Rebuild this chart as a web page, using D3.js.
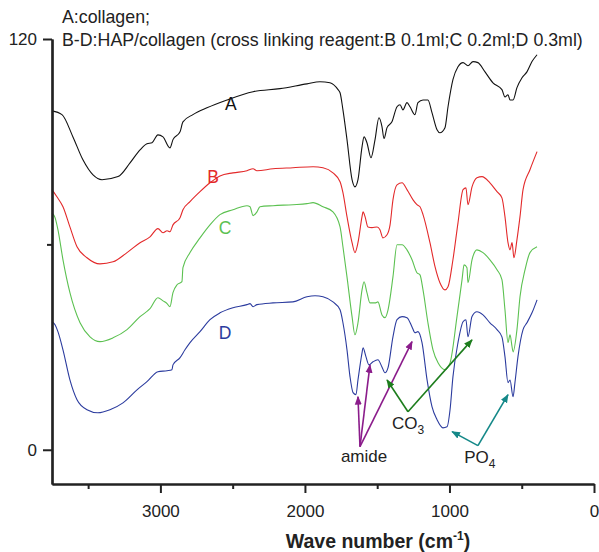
<!DOCTYPE html>
<html>
<meta charset="utf-8">
<style>
  body { margin: 0; background: #fff; }
  svg { width: 599px; height: 552px; display: block; }
  text { font-family: "Liberation Sans", Arial, Helvetica, sans-serif; }
</style>

<body>
  <svg></svg>
</body>

<script src="https://d3js.org/d3.v7.min.js"></script>

<script>

  // spectra: [wave number, transmittance]
  var specA = [[3750,99.0],[3681,97.9],[3605,91.4],[3536,84.7],[3466,80.3],[3404,78.9],[3293,79.8],[3210,83.8],[3141,87.6],[3093,89.4],[3058,89.7],[3017,92.0],[2982,91.4],[2934,88.2],[2913,90.6],[2864,92.9],[2844,95.8],[2775,97.9],[2678,99.9],[2539,102.2],[2359,104.6],[2173,105.5],[1986,106.9],[1896,107.5],[1827,107.2],[1771,105.2],[1757,104.3],[1737,99.3],[1709,90.6],[1674,78.9],[1654,76.8],[1633,78.9],[1605,88.5],[1591,91.4],[1571,89.7],[1543,85.3],[1515,90.6],[1488,97.0],[1467,94.4],[1453,90.9],[1432,94.1],[1398,95.8],[1363,100.2],[1342,100.8],[1322,99.3],[1294,101.4],[1273,100.2],[1239,97.9],[1218,101.4],[1183,102.2],[1149,102.2],[1121,98.5],[1086,93.5],[1066,92.6],[1031,94.1],[1010,100.2],[976,108.1],[941,111.9],[906,113.1],[872,112.2],[837,113.4],[803,113.1],[754,110.4],[699,107.2],[637,105.2],[616,103.1],[595,103.7],[581,102.2],[560,102.2],[533,105.8],[498,108.7],[464,110.4],[429,113.4],[394,115.4]];

  var specB = [[3750,76.0],[3716,73.9],[3674,71.0],[3626,65.1],[3577,59.3],[3508,56.1],[3418,54.3],[3328,54.9],[3231,57.6],[3141,60.5],[3072,62.2],[3017,64.6],[2982,63.4],[2954,64.0],[2934,63.7],[2913,65.7],[2864,67.8],[2844,70.1],[2795,72.5],[2726,75.4],[2657,78.0],[2588,80.0],[2498,80.9],[2401,81.5],[2359,82.1],[2332,81.5],[2221,82.1],[2083,82.4],[1944,82.7],[1875,82.4],[1806,80.9],[1757,78.3],[1737,75.1],[1709,68.1],[1674,60.5],[1654,57.6],[1633,60.5],[1605,68.1],[1598,69.5],[1584,68.1],[1564,65.1],[1536,64.9],[1501,65.1],[1481,64.3],[1460,61.9],[1432,62.8],[1411,65.7],[1391,73.0],[1363,77.4],[1328,78.0],[1294,76.0],[1252,73.0],[1225,71.6],[1204,71.0],[1183,68.7],[1135,60.5],[1100,53.5],[1066,48.8],[1031,46.7],[1010,47.6],[976,55.5],[941,66.3],[906,76.0],[886,76.5],[872,71.6],[844,76.8],[810,79.5],[775,79.8],[720,78.0],[671,75.4],[637,73.6],[616,68.1],[595,60.5],[581,58.4],[567,60.5],[554,56.1],[533,61.4],[512,68.1],[491,76.0],[443,81.8],[394,87.1]];

  var specC = [[3750,69.2],[3729,67.8],[3709,64.3],[3674,55.5],[3626,45.9],[3556,37.1],[3487,33.0],[3418,31.6],[3328,32.7],[3231,35.1],[3141,38.9],[3072,41.2],[3017,44.4],[2982,43.5],[2954,42.7],[2934,41.8],[2913,45.9],[2885,48.2],[2851,49.1],[2844,53.2],[2795,57.6],[2726,61.9],[2657,65.7],[2588,68.7],[2498,70.1],[2401,71.3],[2380,71.0],[2359,68.4],[2332,69.5],[2311,71.0],[2221,71.3],[2083,71.6],[1986,71.9],[1944,72.2],[1875,71.0],[1806,69.5],[1757,65.1],[1737,59.3],[1709,50.5],[1674,38.9],[1654,33.6],[1633,37.1],[1605,46.7],[1591,49.1],[1571,45.9],[1550,42.9],[1515,42.9],[1495,43.2],[1467,39.4],[1446,38.6],[1425,40.9],[1391,50.5],[1363,59.9],[1328,59.9],[1294,58.4],[1259,55.5],[1225,51.7],[1204,51.1],[1183,46.7],[1149,37.1],[1114,29.2],[1079,25.4],[1031,23.4],[996,25.4],[948,38.9],[913,49.7],[899,54.0],[879,53.2],[872,48.8],[844,55.5],[810,58.4],[768,57.6],[720,55.5],[671,52.6],[637,49.7],[616,40.9],[595,31.3],[581,33.6],[567,30.1],[560,28.6],[533,35.1],[512,44.7],[477,52.6],[443,57.6],[394,59.3]];

  var specD = [[3750,37.4],[3729,36.5],[3709,34.5],[3674,29.2],[3626,20.4],[3577,14.6],[3508,11.7],[3432,10.8],[3349,11.7],[3259,13.7],[3162,17.5],[3093,19.9],[3017,22.8],[2954,23.1],[2920,23.4],[2913,24.8],[2864,26.9],[2830,29.2],[2795,31.3],[2726,34.5],[2657,38.0],[2588,40.0],[2498,41.5],[2401,42.4],[2380,42.7],[2359,41.8],[2332,42.4],[2221,42.9],[2083,43.2],[1986,44.7],[1930,45.0],[1875,44.7],[1806,43.2],[1757,40.9],[1737,37.1],[1709,29.2],[1688,21.3],[1667,16.7],[1647,16.1],[1633,20.4],[1605,28.3],[1598,29.8],[1578,27.2],[1557,24.8],[1529,25.7],[1495,26.3],[1467,24.2],[1446,22.5],[1425,24.0],[1391,33.0],[1363,38.0],[1328,38.9],[1294,38.6],[1259,35.9],[1239,34.2],[1218,34.5],[1190,31.3],[1155,20.4],[1121,12.6],[1086,8.8],[1045,6.4],[1017,6.7],[996,11.7],[976,21.3],[941,31.3],[906,37.4],[886,38.0],[872,33.0],[844,38.9],[810,40.3],[768,39.4],[720,37.1],[671,35.1],[637,33.0],[616,27.2],[595,19.6],[581,20.4],[560,15.5],[547,19.6],[526,27.2],[491,35.1],[464,37.1],[429,40.0],[394,43.8]];

  var seriesNames = ["A", "B", "C", "D"];
  var seriesColors = ["#111111", "#e3292a", "#5cc151", "#2b3b9e"];
  // where each curve letter sits: [wave number, value]
  var letterPos = [[2512, 101.1], [2636, 79.8], [2553, 64.9], [2553, 34.2]];

  var xMajor = [3000, 2000, 1000, 0];
  var xMinor = [3500, 2500, 1500, 500];
  var yMajor = [0, 120];
  var yMinor = [60];

  var headLines = ["A:collagen;", "B-D:HAP/collagen (cross linking reagent:B 0.1ml;C 0.2ml;D 0.3ml)"];

  // annotation arrows: label, colour, label anchor, arrow start, arrow tips
  var amideTips = [[1633, 15.5], [1550, 24.8], [1259, 31.6]];
  var co3Tips = [[1432, 20.4], [844, 32.1]];
  var po4Tips = [[982, 5.3], [595, 16.1]];
  var notes = [
    {main: "amide", sub: "", color: "#8b1c8b", text: [1591, -3.5], from: [1619, 0.9], tips: amideTips},
    {main: "CO", sub: "3", color: "#1d7d1d", text: [1287, 6.1], from: [1287, 11.1], tips: co3Tips},
    {main: "PO", sub: "4", color: "#148888", text: [790, -3.8], from: [803, 1.2], tips: po4Tips}
  ];

  var svg = d3.select("svg");

  var xScale = d3.scaleLinear().domain([3750, 0]).range([52, 594]);
  var yScale = d3.scaleLinear().domain([-10, 120]).range([484, 39]);

  // header text
  svg.selectAll(".head")
    .data(headLines)
    .enter().append("text")
    .attr("class", "head")
    .attr("x", 62)
    .attr("y", function(d, i) { return 23 + i * 23; })
    .attr("font-size", "17.8px")
    .attr("fill", "#222")
    .text(function(d) { return d; });

  // spectra
  var line = d3.line()
    .x(function(d) { return xScale(d[0]); })
    .y(function(d) { return yScale(d[1]); })
    .curve(d3.curveMonotoneX);

  var specs = [specA, specB, specC, specD];
  svg.selectAll(".spec")
    .data(specs)
    .enter().append("path")
    .attr("class", "spec")
    .attr("d", line)
    .attr("fill", "none")
    .attr("stroke", function(d, i) { return seriesColors[i]; })
    .attr("stroke-width", 1.1);

  svg.selectAll(".letter")
    .data(seriesNames)
    .enter().append("text")
    .attr("class", "letter")
    .attr("x", function(d, i) { return xScale(letterPos[i][0]); })
    .attr("y", function(d, i) { return yScale(letterPos[i][1]); })
    .attr("dy", "0.36em")
    .attr("text-anchor", "middle")
    .attr("font-size", "17.5px")
    .attr("fill", function(d, i) { return seriesColors[i]; })
    .text(function(d) { return d; });

  // axes
  var xAxis = d3.axisBottom(xScale).tickValues(xMajor).tickSize(9).tickSizeOuter(0).tickPadding(12)
    .tickFormat(d3.format("d"));
  var gx = svg.append("g").attr("transform", "translate(0," + yScale(-10) + ")").call(xAxis);
  var xMinorAxis = d3.axisBottom(xScale).tickValues(xMinor).tickSize(5).tickSizeOuter(0).tickFormat("");
  svg.append("g").attr("transform", "translate(0," + yScale(-10) + ")").call(xMinorAxis);

  var yAxis = d3.axisLeft(yScale).tickValues(yMajor).tickSize(9).tickSizeOuter(0).tickPadding(6);
  var gy = svg.append("g").attr("transform", "translate(" + xScale(3750) + ",0)").call(yAxis);
  var yMinorAxis = d3.axisLeft(yScale).tickValues(yMinor).tickSize(5).tickSizeOuter(0).tickFormat("");
  svg.append("g").attr("transform", "translate(" + xScale(3750) + ",0)").call(yMinorAxis);

  svg.selectAll(".domain").attr("stroke", "#222").attr("stroke-width", 2.2);
  svg.selectAll(".tick line").attr("stroke", "#222").attr("stroke-width", 2);
  svg.selectAll(".tick text")
    .attr("font-family", "Liberation Sans, Arial, sans-serif")
    .attr("font-size", "17px")
    .attr("fill", "#222");

  // axis title
  var title = svg.append("text")
    .attr("x", 378)
    .attr("y", 548)
    .attr("text-anchor", "middle")
    .attr("font-size", "19.5px")
    .attr("font-weight", "bold")
    .attr("fill", "#222");
  title.append("tspan").text("Wave number (cm");
  title.append("tspan").attr("font-size", "12px").attr("dy", "-8").text("-1");
  title.append("tspan").attr("dy", "8").text(")");

  // arrow annotations
  var defs = svg.append("defs");
  notes.forEach(function(n, k) {
    defs.append("marker")
      .attr("id", "head" + k)
      .attr("viewBox", "0 0 10 10")
      .attr("refX", 9).attr("refY", 5)
      .attr("markerWidth", 5.5).attr("markerHeight", 5.5)
      .attr("orient", "auto")
      .attr("markerUnits", "strokeWidth")
      .append("path")
      .attr("d", "M0,1 L10,5 L0,9 Z")
      .attr("fill", n.color);

    svg.selectAll(".arr" + k)
      .data(n.tips)
      .enter().append("line")
      .attr("x1", xScale(n.from[0]))
      .attr("y1", yScale(n.from[1]))
      .attr("x2", function(d) { return xScale(d[0]); })
      .attr("y2", function(d) { return yScale(d[1]); })
      .attr("stroke", n.color)
      .attr("stroke-width", 1.6)
      .attr("marker-end", "url(#head" + k + ")");

    var t = svg.append("text")
      .attr("x", xScale(n.text[0]))
      .attr("y", yScale(n.text[1]))
      .attr("text-anchor", "middle")
      .attr("font-size", "17px")
      .attr("fill", "#222");
    t.append("tspan").text(n.main);
    if (n.sub) {
      t.append("tspan").attr("font-size", "12px").attr("dy", "5").text(n.sub);
    }
  });

</script>

</html>
